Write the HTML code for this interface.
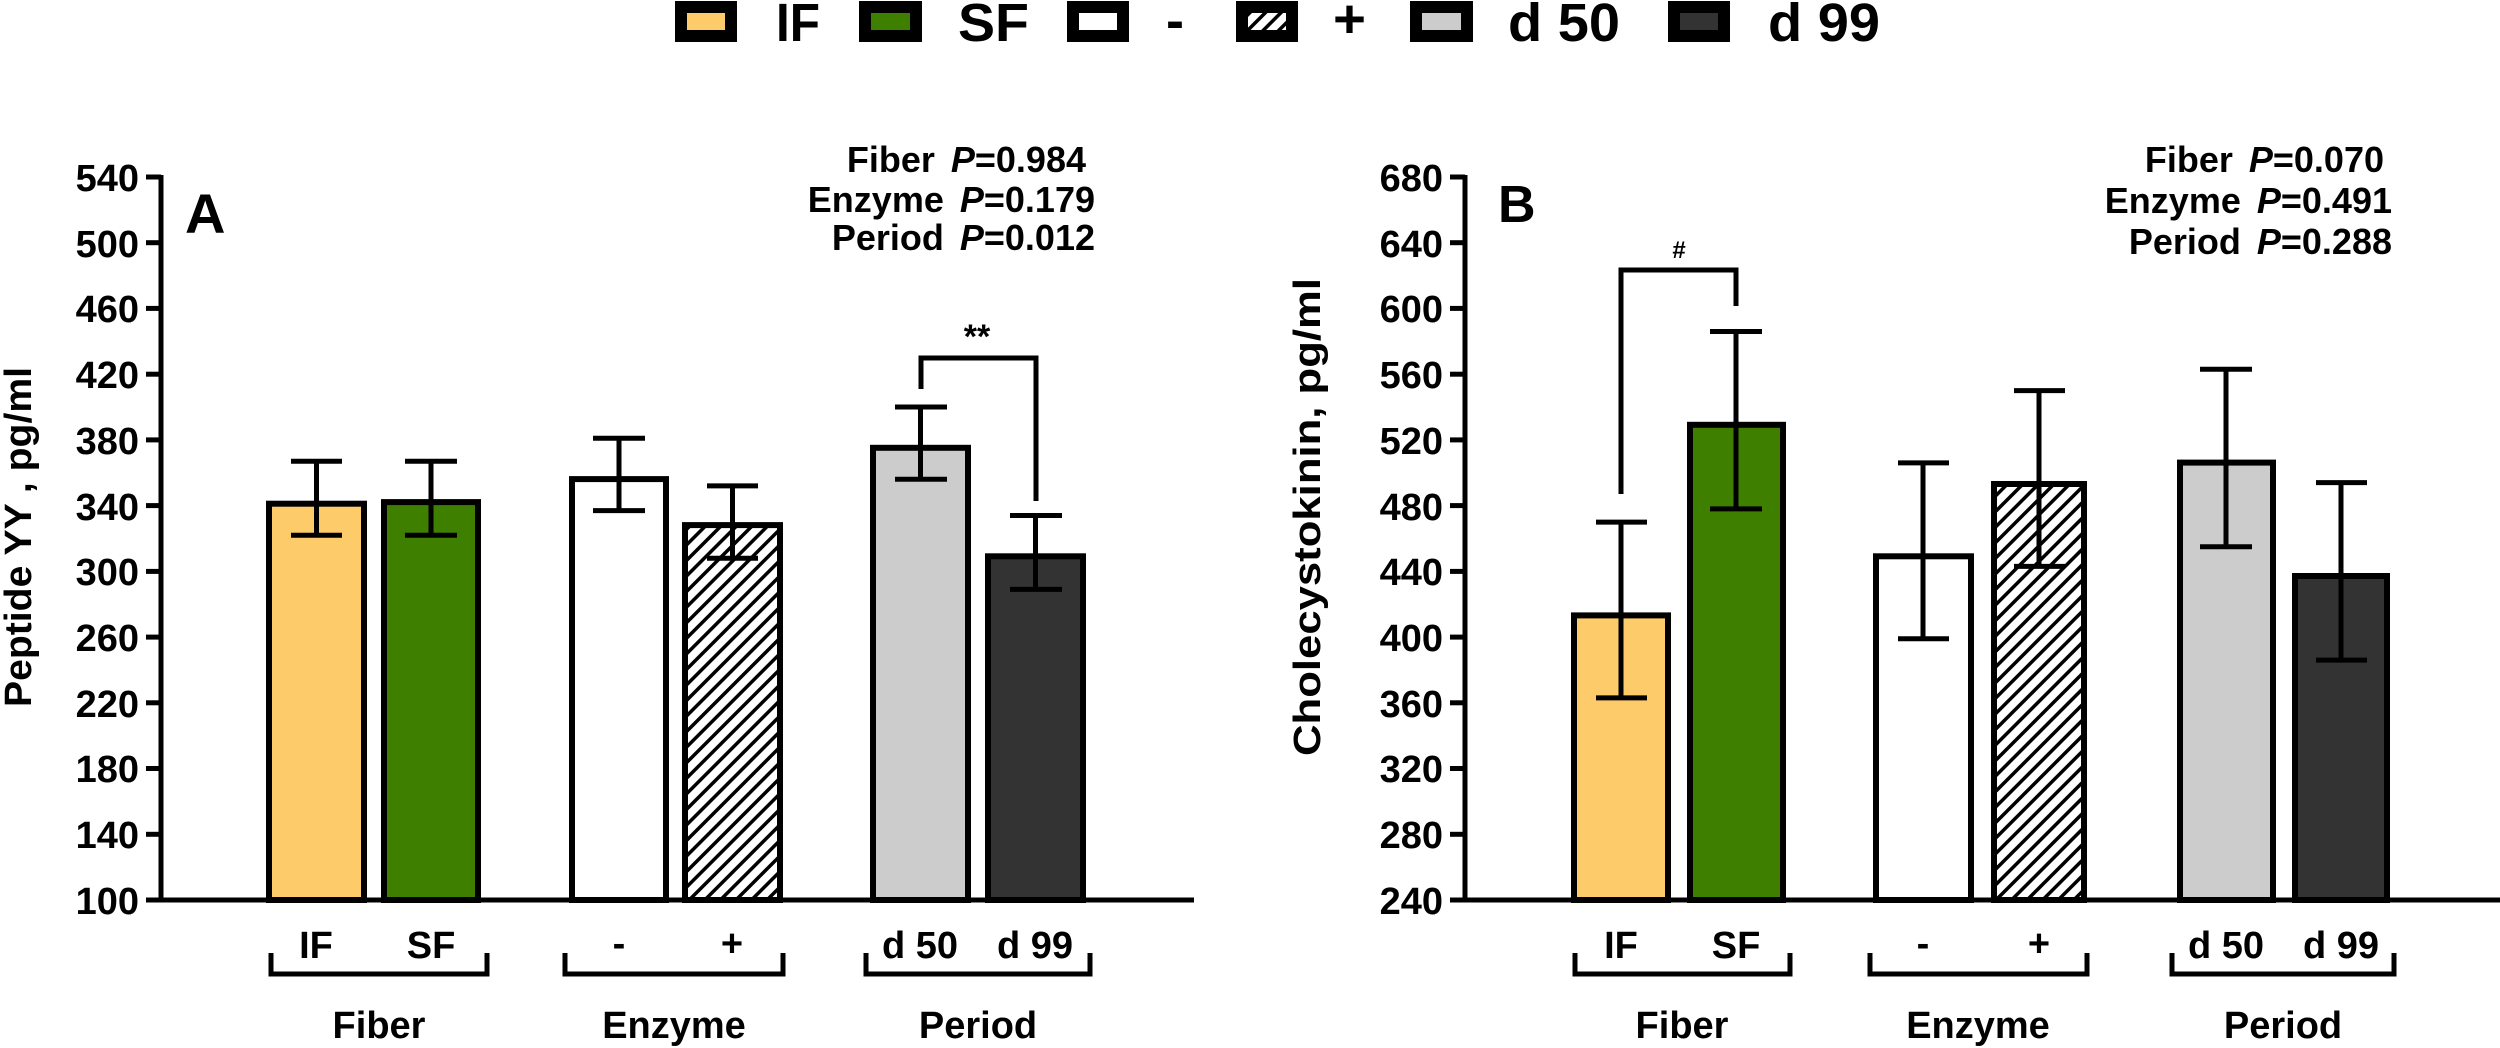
<!DOCTYPE html>
<html><head><meta charset="utf-8"><style>html,body{margin:0;padding:0;background:#fff}svg{display:block}text{font-family:"Liberation Sans",Arial,sans-serif;font-weight:bold;fill:#000}</style></head>
<body>
<svg width="2500" height="1048" viewBox="0 0 2500 1048" xmlns="http://www.w3.org/2000/svg">
<defs>
<pattern id="h" patternUnits="userSpaceOnUse" width="11" height="11" patternTransform="rotate(45)">
<rect width="11" height="11" fill="#fff"/><rect x="0" y="0" width="3.5" height="11" fill="#000"/>
</pattern>
</defs>
<!-- Legend -->
<g>
<rect x="675" y="1" width="62" height="41" fill="#000"/><rect x="687" y="13" width="38" height="17" fill="#fdcb6a"/>
<text x="776" y="41" font-size="54" textLength="44" lengthAdjust="spacingAndGlyphs">IF</text>
<rect x="859" y="1" width="63" height="41" fill="#000"/><rect x="871" y="13" width="39" height="17" fill="#3f7f00"/>
<text x="958" y="41" font-size="54" textLength="71" lengthAdjust="spacingAndGlyphs">SF</text>
<rect x="1067" y="1" width="62" height="41" fill="#000"/><rect x="1079" y="13" width="38" height="17" fill="#fff"/>
<text x="1166" y="39" font-size="54" textLength="18" lengthAdjust="spacingAndGlyphs">-</text>
<rect x="1236" y="1" width="62" height="41" fill="#000"/><rect x="1248" y="13" width="38" height="17" fill="url(#h)"/>
<text x="1333" y="37" font-size="54" textLength="33" lengthAdjust="spacingAndGlyphs">+</text>
<rect x="1410" y="1" width="63" height="41" fill="#000"/><rect x="1422" y="13" width="39" height="17" fill="#cccccc"/>
<text x="1508" y="41" font-size="54" textLength="112" lengthAdjust="spacingAndGlyphs">d 50</text>
<rect x="1668" y="1" width="62" height="41" fill="#000"/><rect x="1680" y="13" width="38" height="17" fill="#333333"/>
<text x="1768" y="41" font-size="54" textLength="112" lengthAdjust="spacingAndGlyphs">d 99</text>
</g>

<!-- Panel A -->
<g stroke="#000" stroke-width="5" fill="none">
<line x1="161" y1="175" x2="161" y2="902"/>
<line x1="158" y1="900" x2="1194" y2="900"/>
<g>
<line x1="146" y1="900" x2="161" y2="900"/><line x1="146" y1="834.3" x2="161" y2="834.3"/><line x1="146" y1="768.5" x2="161" y2="768.5"/><line x1="146" y1="702.8" x2="161" y2="702.8"/><line x1="146" y1="637.1" x2="161" y2="637.1"/><line x1="146" y1="571.4" x2="161" y2="571.4"/><line x1="146" y1="505.6" x2="161" y2="505.6"/><line x1="146" y1="439.9" x2="161" y2="439.9"/><line x1="146" y1="374.2" x2="161" y2="374.2"/><line x1="146" y1="308.4" x2="161" y2="308.4"/><line x1="146" y1="242.7" x2="161" y2="242.7"/><line x1="146" y1="177" x2="161" y2="177"/>
</g>
</g>
<g font-size="38" text-anchor="end">
<text x="139" y="914">100</text><text x="139" y="848">140</text><text x="139" y="782">180</text><text x="139" y="717">220</text><text x="139" y="651">260</text><text x="139" y="585">300</text><text x="139" y="520">340</text><text x="139" y="454">380</text><text x="139" y="388">420</text><text x="139" y="322">460</text><text x="139" y="257">500</text><text x="139" y="191">540</text>
</g>
<text transform="translate(31,537) rotate(-90)" font-size="38" text-anchor="middle" textLength="340" lengthAdjust="spacingAndGlyphs">Peptide YY , pg/ml</text>
<text x="185" y="233" font-size="56">A</text>
<g font-size="36" text-anchor="end">
<text x="1086" y="172">Fiber<tspan dx="16" font-style="italic">P</tspan>=0.984</text>
<text x="1095" y="212">Enzyme<tspan dx="16" font-style="italic">P</tspan>=0.179</text>
<text x="1095" y="250">Period<tspan dx="16" font-style="italic">P</tspan>=0.012</text>
</g>
<g stroke="#000" stroke-width="6">
<rect x="269" y="503.7" width="95" height="396.3" fill="#fdcb6a"/>
<rect x="384" y="502.1" width="94" height="397.9" fill="#3f7f00"/>
<rect x="572" y="479.1" width="94" height="420.9" fill="#fff"/>
<rect x="685" y="525.1" width="95" height="374.9" fill="url(#h)"/>
<rect x="873" y="447.8" width="95" height="452.2" fill="#cccccc"/>
<rect x="988" y="556.3" width="95" height="343.7" fill="#333333"/>
</g>
<g stroke="#000" stroke-width="5" fill="none">
<path d="M316.5 535.2V461.3M291 535.2h51M291 461.3h51"/>
<path d="M431 535.2V461.3M405 535.2h52M405 461.3h52"/>
<path d="M619 510.6V438.3M593 510.6h52M593 438.3h52"/>
<path d="M732.5 558.2V485.9M707 558.2h51M707 485.9h51"/>
<path d="M920.5 479.3V407M895 479.3h52M895 407h52"/>
<path d="M1035.5 589.4V515.5M1010 589.4h52M1010 515.5h52"/>
<path d="M921 389V358H1036V501"/>
</g>
<text x="977" y="348" font-size="34" text-anchor="middle">**</text>
<g font-size="38" text-anchor="middle">
<text x="316" y="958">IF</text><text x="431" y="958">SF</text>
<text x="619" y="956">-</text><text x="732" y="956">+</text>
<text x="920" y="958">d 50</text><text x="1035" y="958">d 99</text>
<text x="379" y="1038">Fiber</text><text x="674" y="1038">Enzyme</text><text x="978" y="1038">Period</text>
</g>
<g stroke="#000" stroke-width="5" fill="none">
<path d="M271 953V974H487V953"/><path d="M565 953V974H783V953"/><path d="M866 953V974H1090V953"/>
</g>

<!-- Panel B -->
<g stroke="#000" stroke-width="5" fill="none">
<line x1="1465" y1="175" x2="1465" y2="902"/>
<line x1="1462" y1="900" x2="2500" y2="900"/>
<line x1="1450" y1="900" x2="1465" y2="900"/><line x1="1450" y1="834.3" x2="1465" y2="834.3"/><line x1="1450" y1="768.5" x2="1465" y2="768.5"/><line x1="1450" y1="702.8" x2="1465" y2="702.8"/><line x1="1450" y1="637.1" x2="1465" y2="637.1"/><line x1="1450" y1="571.4" x2="1465" y2="571.4"/><line x1="1450" y1="505.6" x2="1465" y2="505.6"/><line x1="1450" y1="439.9" x2="1465" y2="439.9"/><line x1="1450" y1="374.2" x2="1465" y2="374.2"/><line x1="1450" y1="308.4" x2="1465" y2="308.4"/><line x1="1450" y1="242.7" x2="1465" y2="242.7"/><line x1="1450" y1="177" x2="1465" y2="177"/>
</g>
<g font-size="38" text-anchor="end">
<text x="1443" y="914">240</text><text x="1443" y="848">280</text><text x="1443" y="782">320</text><text x="1443" y="717">360</text><text x="1443" y="651">400</text><text x="1443" y="585">440</text><text x="1443" y="520">480</text><text x="1443" y="454">520</text><text x="1443" y="388">560</text><text x="1443" y="322">600</text><text x="1443" y="257">640</text><text x="1443" y="191">680</text>
</g>
<text transform="translate(1320,517) rotate(-90)" font-size="38" text-anchor="middle" textLength="478" lengthAdjust="spacingAndGlyphs">Cholecystokinin, pg/ml</text>
<text x="1498" y="222" font-size="52">B</text>
<g font-size="36" text-anchor="end">
<text x="2384" y="172">Fiber<tspan dx="16" font-style="italic">P</tspan>=0.070</text>
<text x="2392" y="213">Enzyme<tspan dx="16" font-style="italic">P</tspan>=0.491</text>
<text x="2392" y="254">Period<tspan dx="16" font-style="italic">P</tspan>=0.288</text>
</g>
<g stroke="#000" stroke-width="6">
<rect x="1574" y="615.4" width="94" height="284.6" fill="#fdcb6a"/>
<rect x="1690" y="424.8" width="93" height="475.2" fill="#3f7f00"/>
<rect x="1876" y="556.3" width="95" height="343.7" fill="#fff"/>
<rect x="1994" y="484" width="90" height="416" fill="url(#h)"/>
<rect x="2180" y="462.6" width="93" height="437.4" fill="#cccccc"/>
<rect x="2295" y="576" width="92" height="324" fill="#333333"/>
</g>
<g stroke="#000" stroke-width="5" fill="none">
<path d="M1621 697.9V522.1M1596 697.9h51M1596 522.1h51"/>
<path d="M1736 508.9V331.5M1710 508.9h52M1710 331.5h52"/>
<path d="M1923 638.7V462.9M1898 638.7h51M1898 462.9h51"/>
<path d="M2039 566.4V390.6M2014 566.4h51M2014 390.6h51"/>
<path d="M2226 546.7V369.2M2200 546.7h52M2200 369.2h52"/>
<path d="M2341 660.1V482.6M2316 660.1h51M2316 482.6h51"/>
<path d="M1621 494V270H1736V306"/>
</g>
<text x="1679" y="258" font-size="24" text-anchor="middle">#</text>
<g font-size="38" text-anchor="middle">
<text x="1621" y="958">IF</text><text x="1736" y="958">SF</text>
<text x="1923" y="956">-</text><text x="2039" y="956">+</text>
<text x="2226" y="958">d 50</text><text x="2341" y="958">d 99</text>
<text x="1682" y="1038">Fiber</text><text x="1978" y="1038">Enzyme</text><text x="2283" y="1038">Period</text>
</g>
<g stroke="#000" stroke-width="5" fill="none">
<path d="M1575 953V974H1790V953"/><path d="M1870 953V974H2087V953"/><path d="M2172 953V974H2394V953"/>
</g>
</svg>
</body></html>
